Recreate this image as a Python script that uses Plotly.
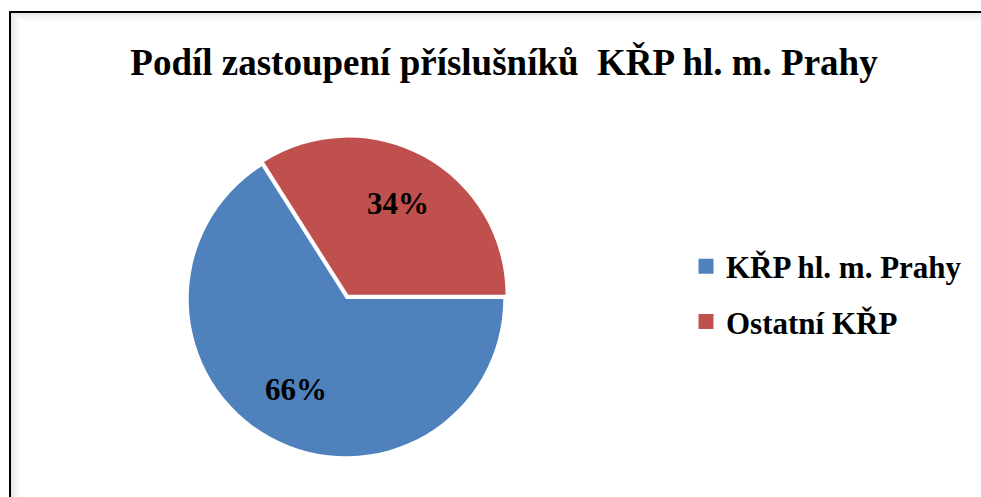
import math
import plotly.graph_objects as go

labels = ["KŘP hl. m. Prahy", "Ostatní KŘP"]
values = [66, 34]
colors = ["#4F81BD", "#C0504D"]
pulls = [0, 0.03]
title_text = "Podíl zastoupení příslušníků  KŘP hl. m. Prahy"

W, H = 981, 497
FONT = "Liberation Serif"

# pie geometry (pixels from top-left)
CX, CY, HALF = 346, 299, 162
R = HALF / (1 + max(pulls))

fig = go.Figure()
fig.add_trace(go.Pie(
    labels=labels,
    values=values,
    sort=False,
    direction="clockwise",
    rotation=90,
    pull=pulls,
    marker=dict(colors=colors, line=dict(width=0)),
    textinfo="none",
    domain=dict(x=[(CX - HALF) / W, (CX + HALF) / W],
                y=[1 - (CY + HALF) / H, 1 - (CY - HALF) / H]),
    showlegend=False,
    hoverinfo="label+percent",
))

# legend entries (one group per category so the rows can be spaced)
for lab, col in zip(labels, colors):
    fig.add_trace(go.Scatter(
        x=[None], y=[None], mode="markers", name=lab, legendgroup=lab,
        marker=dict(symbol="square", size=15, color=col),
        hoverinfo="skip",
    ))

# percentage labels placed on the slice bisectors
total = sum(values)
annotations = []
start = 0.0  # degrees, 3 o'clock, going clockwise
for v, p in zip(values, pulls):
    span = 360.0 * v / total
    mid = -(start + span / 2)
    d = (p + 0.66) * R
    x = CX + d * math.cos(math.radians(mid))
    y = CY - d * math.sin(math.radians(mid))
    annotations.append(dict(
        x=x / W, y=1 - y / H, xref="paper", yref="paper",
        text=f"{round(100 * v / total)}%", showarrow=False,
        xanchor="center", yanchor="middle",
        font=dict(family=FONT, size=31, color="black", weight="bold"),
    ))
    start += span

shapes = []
# soft inner shadow of the chart border
for i, op in enumerate([0.09, 0.06, 0.035, 0.02]):
    off = 2 + i * 2
    shapes.append(dict(type="rect", xref="paper", yref="paper",
                       x0=(10 + off) / W, x1=1.02, y0=-0.02, y1=1 - (12 + off) / H,
                       line=dict(color=f"rgba(0,0,0,{op})", width=2), fillcolor="rgba(0,0,0,0)"))
shapes.append(dict(type="rect", xref="paper", yref="paper",
                   x0=10 / W, x1=1.02, y0=-0.02, y1=1 - 12 / H,
                   line=dict(color="black", width=2), fillcolor="rgba(0,0,0,0)"))

fig.update_layout(
    width=W, height=H,
    margin=dict(l=0, r=0, t=0, b=0),
    paper_bgcolor="white",
    plot_bgcolor="white",
    xaxis=dict(visible=False),
    yaxis=dict(visible=False),
    title=dict(text=title_text, x=504 / W, xanchor="center", y=1 - 62 / H, yanchor="middle",
               font=dict(family=FONT, size=37, color="black", weight="bold")),
    legend=dict(x=686 / W, xanchor="left", y=1 - 294 / H, yanchor="middle",
                font=dict(family=FONT, size=31, color="black", weight="bold"),
                tracegroupgap=12, bgcolor="rgba(0,0,0,0)"),
    annotations=annotations,
    shapes=shapes,
)

fig.write_html("out.html", config={"displayModeBar": False},
               post_script="document.body.style.margin='0';")
